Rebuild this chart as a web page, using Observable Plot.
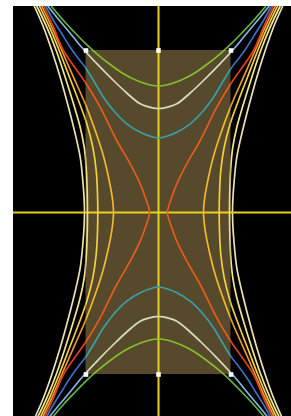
<!DOCTYPE html>
<html>
<head>
<meta charset="utf-8">
<script src="https://cdn.jsdelivr.net/npm/d3@7"></script>
<script src="https://cdn.jsdelivr.net/npm/@observablehq/plot@0.6"></script>
<style>
  html, body { margin: 0; padding: 0; background: #ffffff; overflow: hidden; }
  #chart { position: absolute; left: 13px; top: 6px; }
</style>
</head>
<body>
<div id="chart"></div>
<script>
// ---- Data (dx = horizontal offset from centre, dy = vertical offset, up positive)
// Horizontal-opening hyperbolas: upper-left quarter of the left branch, top edge down to the vertex
const creamDx  = [-124, -115, -106.7, -98.3, -90, -83.3, -78.3, -75.7, -74.3, -74];
const creamDy  = [206, 185.3, 162, 135.3, 105.3, 78.7, 55.3, 32, 12, 0];
const paleDx   = [-121.5, -111.7, -102.3, -93.3, -85, -78.3, -74.3, -72.3, -71.3, -71];
const paleDy   = [206, 185.3, 162, 135.3, 108.7, 85.3, 65.3, 45.3, 22, 0];
const yellowDx = [-118.8, -109, -99.3, -89, -80, -71.7, -65.7, -62.3, -61, -60.7];
const yellowDy = [206, 185.3, 162, 135.3, 112, 88.7, 65.3, 42, 18.7, 0];
const goldDx   = [-116.6, -106.7, -96.7, -85, -73.3, -63.3, -55.7, -50, -46.3, -45];
const goldDy   = [206, 185.3, 162, 135.3, 108.7, 82, 58.7, 35.3, 15.3, 0];
const redDx    = [-114.6, -105, -95, -73.3, -58.3, -41.7, -28.3, -18.3, -13.3, -9];
const redDy    = [206, 185.3, 162, 130.3, 105.3, 72, 48.7, 28.7, 15.3, 0];
// Vertical-opening hyperbolas: upper-left quarter of the top branch, top edge across to the vertex
const blueDx   = [-112.6, -105, -96.7, -88.3, -80, -73.3, -65, -55, -45, -31.7, -18.3, -5, 0];
const blueDy   = [206, 192, 178.7, 165.3, 153.7, 145.3, 132, 115.3, 102, 88.7, 80.3, 75.3, 74.5];
const lightDx  = [-110.3, -101.7, -93.3, -85, -78.3, -73.3, -58.3, -45, -31.7, -18.3, -5, 0];
const lightDy  = [206, 195.3, 185.3, 175.3, 167, 161.3, 145.3, 132, 119.5, 108.7, 104.4, 104];
const greenDx  = [-107, -95, -85, -73.3, -61.7, -48.3, -35, -21.7, -8.3, 0];
const greenDy  = [206, 192, 181.3, 169.3, 158.7, 148, 138.7, 132, 127.5, 126.5];

// Shaded rectangle and its marker points
const rectX = [-72.5, 72.5];
const rectY = [-162, 162];
const markerX = [-72.5, 0, 72.5];
const markerY = [162, -162];

// Frame extent
const xDomain = [-145, 133];
const yDomain = [-204, 206];

// ---- Styles
const styles = {
  cream:  {outer: "#ece2b4", inner: "#ece2b4"},
  pale:   {outer: "#f3e596", inner: "#f2e07a"},
  yellow: {outer: "#f3cf44", inner: "#f4d23a"},
  gold:   {outer: "#ec9a2e", inner: "#f0b82a"},
  red:    {outer: "#e0401f", inner: "#e85a1e"},
  blue:   {outer: "#3a70c4", inner: "#38a0a6"},
  light:  {outer: "#86b4e2", inner: "#d6dcbc"},
  green:  {outer: "#66b23e", inner: "#86bd30"}
};

const curves = [
  {name: "cream",  orient: "h", dx: creamDx,  dy: creamDy},
  {name: "pale",   orient: "h", dx: paleDx,   dy: paleDy},
  {name: "yellow", orient: "h", dx: yellowDx, dy: yellowDy},
  {name: "gold",   orient: "h", dx: goldDx,   dy: goldDy},
  {name: "red",    orient: "h", dx: redDx,    dy: redDy},
  {name: "blue",   orient: "v", dx: blueDx,   dy: blueDy},
  {name: "light",  orient: "v", dx: lightDx,  dy: lightDy},
  {name: "green",  orient: "v", dx: greenDx,  dy: greenDy}
];

// Build full branches by mirroring the quarter
const rows = [];
for (const c of curves) {
  const n = c.dx.length;
  const quarter = d3.range(n).map(i => [c.dx[i], c.dy[i]]);
  let half;
  if (c.orient === "h") {
    half = quarter.concat(d3.range(n - 2, -1, -1).map(i => [c.dx[i], -c.dy[i]]));
    for (const s of [1, -1]) half.forEach(([x, y], k) => rows.push({key: c.name + s, name: c.name, order: k, x: s * x, y}));
  } else {
    half = quarter.concat(d3.range(n - 2, -1, -1).map(i => [-c.dx[i], c.dy[i]]));
    for (const s of [1, -1]) half.forEach(([x, y], k) => rows.push({key: c.name + s, name: c.name, order: k, x, y: s * y}));
  }
}
const outerRows = rows.map(d => ({...d, color: styles[d.name].outer}));
const innerRows = rows.map(d => ({...d, color: styles[d.name].inner}));
const markers = markerY.flatMap(y => markerX.map(x => ({x, y})));

const chart = Plot.plot({
  width: 278,
  height: 410,
  margin: 0,
  x: {domain: xDomain, axis: null},
  y: {domain: yDomain, axis: null},
  color: {type: "identity"},
  style: {background: "#000000", display: "block"},
  marks: [
    Plot.line(outerRows, {x: "x", y: "y", z: "key", stroke: "color", strokeWidth: 1.7, curve: "catmull-rom"}),
    Plot.rect([{x1: rectX[0], x2: rectX[1], y1: rectY[0], y2: rectY[1]}], {x1: "x1", x2: "x2", y1: "y1", y2: "y2", fill: "#57492b"}),
    Plot.ruleX([0], {stroke: "#e8d21c", strokeWidth: 2}),
    Plot.ruleY([0], {stroke: "#e8d21c", strokeWidth: 2}),
    Plot.line(innerRows, {x: "x", y: "y", z: "key", stroke: "color", strokeWidth: 1.7, curve: "catmull-rom"}),
    Plot.dot(markers, {x: "x", y: "y", symbol: "square", r: 2.6, fill: "#ffffff", stroke: "none"})
  ]
});

// Clip the inner-coloured curves to the shaded rectangle drawn by Plot
const ns = "http://www.w3.org/2000/svg";
const rectEl = chart.querySelector('g[aria-label="rect"] rect');
const lineGroups = chart.querySelectorAll('g[aria-label="line"]');
if (rectEl && lineGroups.length > 1) {
  const defs = document.createElementNS(ns, "defs");
  const clip = document.createElementNS(ns, "clipPath");
  clip.setAttribute("id", "inside-rect");
  const r = rectEl.cloneNode();
  const t = rectEl.parentNode.getAttribute("transform");
  if (t) r.setAttribute("transform", t);
  clip.appendChild(r);
  defs.appendChild(clip);
  chart.insertBefore(defs, chart.firstChild);
  const inner = lineGroups[1];
  const wrap = document.createElementNS(ns, "g");
  wrap.setAttribute("clip-path", "url(#inside-rect)");
  inner.parentNode.insertBefore(wrap, inner);
  wrap.appendChild(inner);
}
document.getElementById("chart").appendChild(chart);
</script>
</body>
</html>
